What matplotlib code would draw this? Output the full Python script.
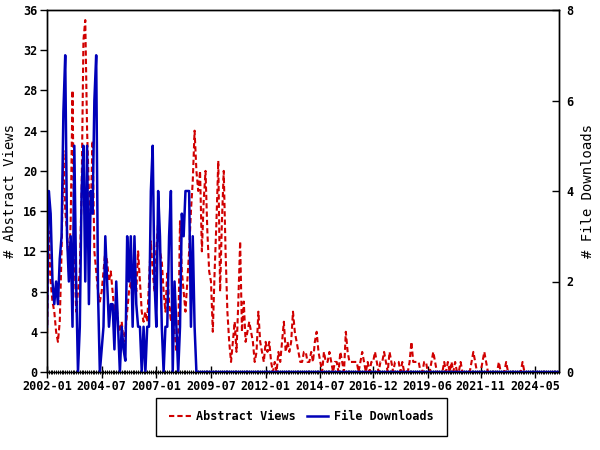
import matplotlib as mpl
mpl.use('Agg')
import matplotlib.pyplot as plt
from matplotlib.ticker import FixedLocator, MultipleLocator

# Monthly counts, 2002-01 .. 2025-06 (one row per year).
abstract_views = [
    3, 14, 9, 7, 6, 4, 3, 5, 12, 22, 16, 14,        # 2002
    10, 15, 28, 12, 6, 8, 10, 18, 33, 35, 24, 18,   # 2003
    16, 23, 12, 10, 8, 7, 8, 10, 12, 11, 9, 10,     # 2004
    8, 6, 7, 5, 4, 5, 3, 4, 6, 8, 9, 7,             # 2005
    10, 8, 12, 9, 6, 5, 6, 5, 9, 13, 10, 8,         # 2006
    12, 15, 12, 11, 8, 6, 10, 7, 5, 8, 4, 2,        # 2007
    3, 15, 10, 8, 6, 9, 12, 16, 19, 24, 20, 18,     # 2008
    20, 12, 17, 20, 14, 10, 9, 4, 10, 15, 21, 8,    # 2009
    15, 20, 12, 6, 3, 1, 3, 5, 2, 7, 13, 4,         # 2010
    7, 3, 4, 5, 4, 3, 1, 2, 6, 3, 2, 1,             # 2011
    3, 2, 3, 1, 0, 1, 0, 2, 1, 3, 5, 2,             # 2012
    3, 2, 3, 6, 4, 3, 2, 1, 1, 2, 2, 1,             # 2013
    1, 2, 1, 3, 4, 2, 1, 0, 2, 1, 1, 2,             # 2014
    1, 0, 1, 1, 0, 2, 1, 0, 4, 2, 1, 1,             # 2015
    1, 1, 1, 0, 1, 2, 1, 0, 1, 0, 1, 1,             # 2016
    2, 1, 0, 1, 1, 2, 1, 0, 2, 1, 0, 1,             # 2017
    1, 1, 0, 1, 0, 0, 0, 1, 3, 1, 1, 1,             # 2018
    1, 0, 0, 1, 1, 0, 0, 1, 2, 1, 0, 0,             # 2019
    0, 0, 1, 0, 1, 0, 1, 0, 1, 0, 0, 1,             # 2020
    0, 0, 0, 0, 0, 1, 2, 1, 0, 0, 0, 1,             # 2021
    2, 1, 0, 0, 0, 0, 0, 0, 1, 0, 0, 0,             # 2022
    1, 0, 0, 0, 0, 0, 0, 0, 0, 1, 0, 0,             # 2023
    0, 0, 0, 0, 0, 0, 0, 0, 0, 0, 0, 0,             # 2024
    0, 0, 0, 0, 0, 0,                               # 2025
]
file_downloads = [
    1, 4, 3.5, 2, 1.5, 2, 1.5, 2.5, 3, 5.75, 7, 3,  # 2002
    2, 3, 1, 5, 2, 0, 1, 4, 5, 2, 5, 1.5,           # 2003
    4, 3.5, 6, 7, 1.75, 0, 0.5, 1, 3, 2, 1, 1.5,    # 2004
    1.5, 0.5, 2, 1, 0, 1, 0.5, 0.25, 3, 2, 3, 1,    # 2005
    3, 1.5, 1, 1, 0, 1, 0, 1, 1, 4, 5, 2,           # 2006
    1, 4, 3, 1, 0, 1, 1, 3, 4, 0, 2, 1,             # 2007
    0, 1, 3.5, 3, 4, 4, 4, 1, 3, 1, 0, 0,           # 2008
] + [0] * (len(abstract_views) - 84)
tick_labels = ['2002-01', '2004-07', '2007-01', '2009-07', '2012-01',
               '2014-07', '2016-12', '2019-06', '2021-11', '2024-05']

red, blue = '#d00000', '#0000b8'
mono = 'DejaVu Sans Mono'

plt.rcParams['font.family'] = [mono]
plt.rcParams['lines.scale_dashes'] = False

fig = plt.figure(figsize=(6, 4.5), dpi=100)
ax = fig.add_axes((47 / 600, 1 - 372 / 450, 512 / 600, 362 / 450))
ax2 = ax.twinx()

months = list(range(len(abstract_views)))
line_views, = ax.plot(months, abstract_views, color=red, lw=1.5, dashes=(3.8, 2.2), label='Abstract Views')
line_dl, = ax2.plot(months, file_downloads, color=blue, lw=1.8, label='File Downloads')

ax.set_xlim(0, len(months) - 1)
ax.set_ylim(0, 36)
ax2.set_ylim(0, 8)
ax.yaxis.set_major_locator(MultipleLocator(4))
ax2.yaxis.set_major_locator(MultipleLocator(2))

tick_pos = [(int(s[:4]) - 2002) * 12 + int(s[5:]) - 1 for s in tick_labels]
ax.xaxis.set_major_locator(FixedLocator(tick_pos))
ax.set_xticklabels(tick_labels)
ax.xaxis.set_minor_locator(MultipleLocator(1))

ax.tick_params(axis='x', which='major', direction='inout', length=8, width=1, pad=2)
ax.tick_params(axis='x', which='minor', direction='inout', length=3.5, width=0.7)
ax.tick_params(axis='y', direction='out', length=5, width=1, pad=2)
ax2.tick_params(axis='y', direction='in', length=5, width=1, pad=5)
for a in (ax, ax2):
    for lab in a.get_xticklabels() + a.get_yticklabels():
        lab.set_fontweight('bold')
        lab.set_fontsize(8.5)
    for sp in a.spines.values():
        sp.set_linewidth(1)

ax.set_ylabel('# Abstract Views', fontsize=10, labelpad=4)
ax2.set_ylabel('# File Downloads', fontsize=10, labelpad=6)

lg = fig.legend(handles=[line_views, line_dl], loc='center', bbox_to_anchor=(301.5 / 600, 1 - 417 / 450),
                ncol=2, frameon=True, fancybox=False, edgecolor='black', framealpha=1,
                prop={'family': mono, 'weight': 'bold', 'size': 8.5},
                handlelength=1.8, handletextpad=0.5, columnspacing=0.9, borderpad=1.1)
lg.get_frame().set_linewidth(1)

fig.savefig('out.png', dpi=100)
